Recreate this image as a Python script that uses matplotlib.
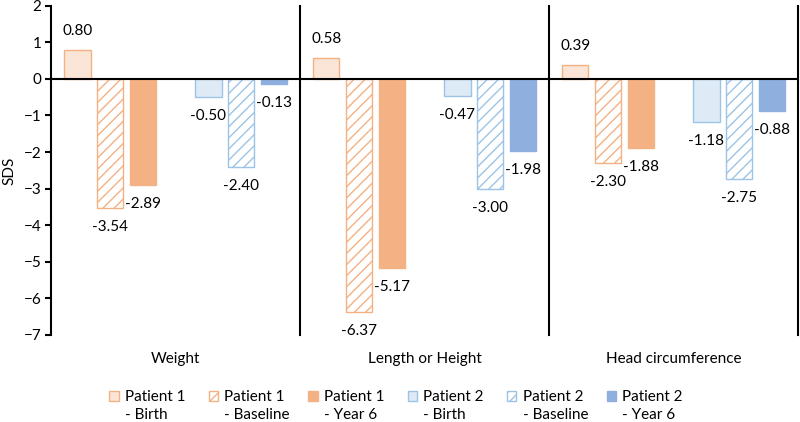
import numpy as np
import matplotlib.pyplot as plt
from matplotlib.patches import Patch

plt.rcParams['font.family'] = ['Lato', 'DejaVu Sans']
plt.rcParams['hatch.linewidth'] = 1.0

# data
categories = ['Weight', 'Length or Height', 'Head circumference']
series_names = ['Patient 1', 'Patient 1', 'Patient 1', 'Patient 2', 'Patient 2', 'Patient 2']
series_subs = ['- Birth', '- Baseline', '- Year 6', '- Birth', '- Baseline', '- Year 6']
p1_birth = [0.80, 0.58, 0.39]
p1_baseline = [-3.54, -6.37, -2.30]
p1_year6 = [-2.89, -5.17, -1.88]
p2_birth = [-0.50, -0.47, -1.18]
p2_baseline = [-2.40, -3.00, -2.75]
p2_year6 = [-0.13, -1.98, -0.88]
yticks = np.arange(-7, 3, 1)

series = [p1_birth, p1_baseline, p1_year6, p2_birth, p2_baseline, p2_year6]

# (face, edge, hatch)
orange = '#F4B183'
blue_edge = '#9DC3E6'
blue_solid = '#8FB0DE'
styles = [('#FBE5D6', orange, None),
          ('white', orange, '///'),
          (orange, orange, None),
          ('#DEEBF7', blue_edge, None),
          ('white', blue_edge, '///'),
          (blue_solid, blue_solid, None)]
slots = [-3, -2, -1, 1, 2, 3]   # empty slot in the middle
slot_w = 0.1317
bar_w = 0.1064
fs = 11

fig = plt.figure(figsize=(8, 4.22), dpi=100)
ax = fig.add_axes([0.064, 0.2062, 0.9335, 0.7803])

x = np.arange(len(categories))
handles = []
for vals, name, st, k in zip(series, series_names, styles, slots):
    face, edge, hatch = st
    bars = ax.bar(x + k * slot_w, vals, bar_w, color=face, edgecolor=edge,
                  hatch=hatch, linewidth=1.0, zorder=2)
    handles.append(Patch(facecolor=face, edgecolor=edge, hatch=hatch,
                         linewidth=1.0, label=name))
    for b, v in zip(bars, vals):
        off = 19 if v > 0 else -19
        ax.annotate('%.2f' % v, (b.get_x() + b.get_width() / 2, v),
                    xytext=(0, off), textcoords='offset pixels',
                    ha='center', va='center', fontsize=fs, zorder=4)

ax.set_xlim(-0.5, 2.5)
ax.set_ylim(-7, 2)
ax.axhline(0, color='black', lw=1.5, zorder=3)
for xv in [0.5, 1.5, 2.5]:
    ax.axvline(xv, color='black', lw=1.5, clip_on=False, zorder=3)

for s in ['top', 'right', 'bottom']:
    ax.spines[s].set_visible(False)
ax.spines['left'].set_linewidth(1.5)
ax.set_yticks(yticks)
ax.tick_params(axis='y', length=4, width=1.5, labelsize=fs, pad=3)
ax.set_xticks(x)
ax.set_xticklabels(categories, fontsize=fs)
ax.tick_params(axis='x', length=0, pad=12.5)
ax.set_ylabel('SDS', fontsize=fs, labelpad=5)

leg = fig.legend(handles=handles, loc='upper center', bbox_to_anchor=(0.495, 0.09),
                 ncol=6, frameon=False, fontsize=fs, handlelength=0.6, handleheight=0.6,
                 handletextpad=0.4, columnspacing=1.55, borderaxespad=0)

# second line of each legend label, left aligned under the first
fig.canvas.draw()
for t, sub in zip(leg.get_texts(), series_subs):
    bb = t.get_window_extent()
    fig.text(bb.x0, (bb.y0 + bb.y1) / 2 - 18, sub, transform=None,
             ha='left', va='center', fontsize=fs)

fig.savefig('out.png', dpi=100)
